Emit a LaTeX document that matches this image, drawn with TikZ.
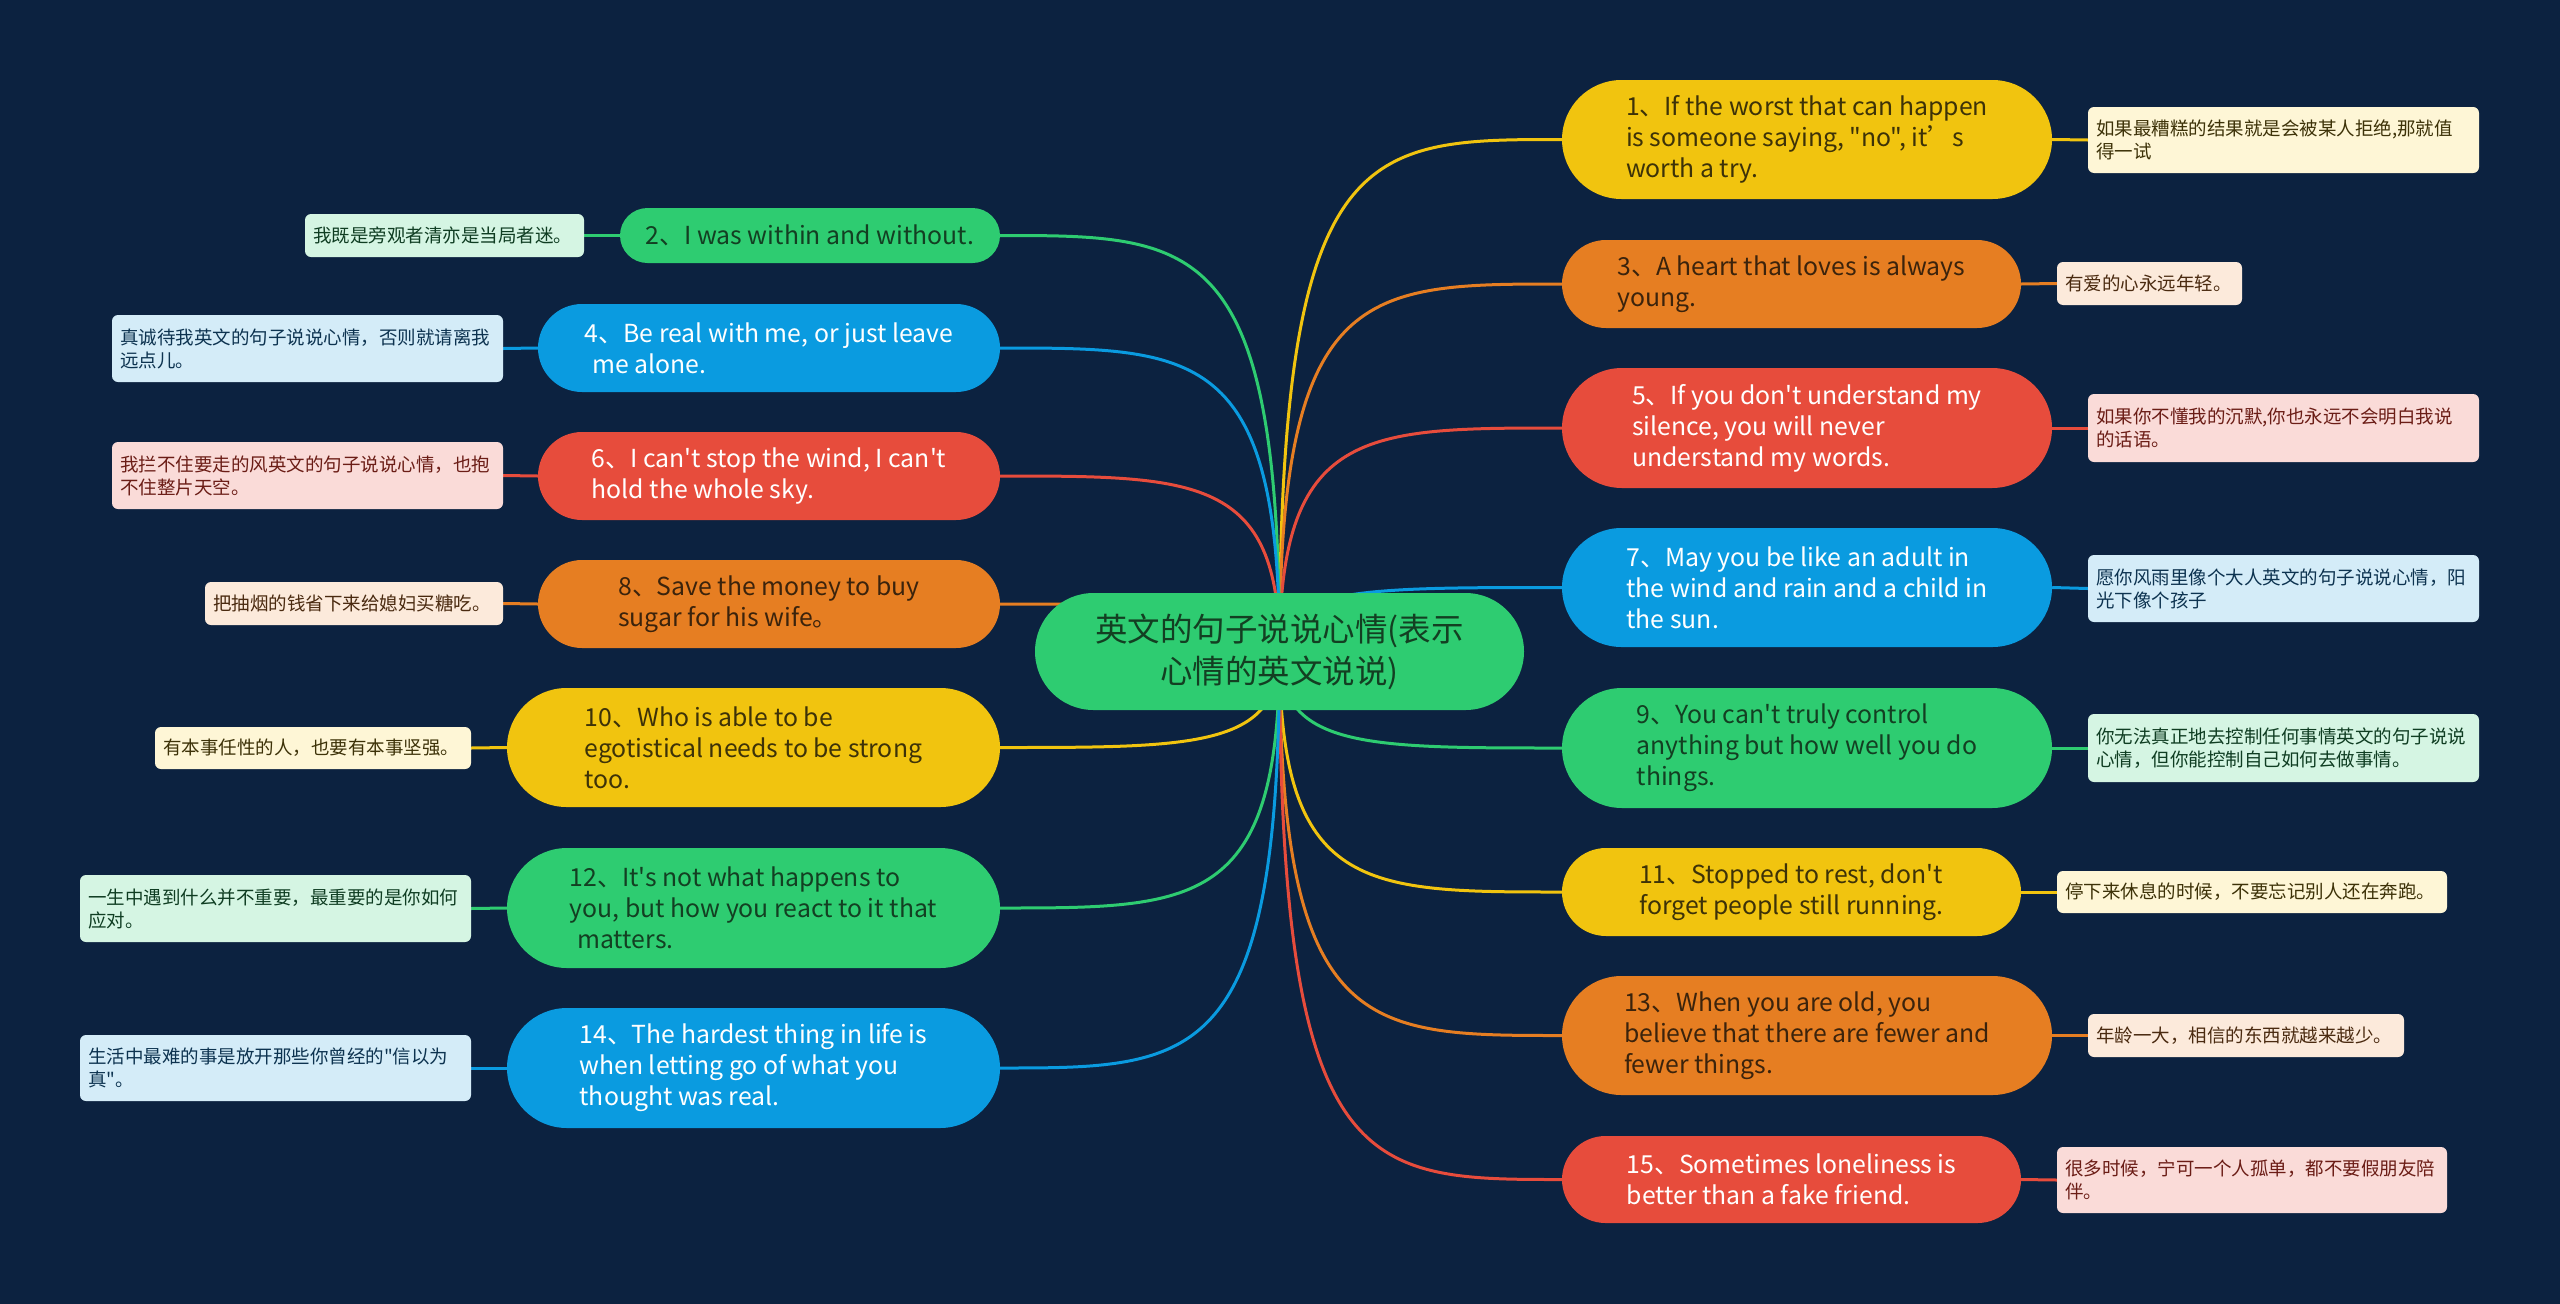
\documentclass[tikz,border=0pt]{standalone}
\usepackage{fontspec}
\defaultfontfeatures[\rmfamily]{}
\setmainfont{Noto Sans CJK SC}
\usetikzlibrary{calc,backgrounds}
\definecolor{bgc}{HTML}{0C2240}
\definecolor{cy}{HTML}{F1C40F}
\definecolor{co}{HTML}{E67E22}
\definecolor{cr}{HTML}{E74C3C}
\definecolor{cb}{HTML}{0A9BE0}
\definecolor{cg}{HTML}{2ECC71}
\definecolor{ly}{HTML}{FEF6D6}
\definecolor{lo}{HTML}{FCEADB}
\definecolor{lr}{HTML}{FADBD8}
\definecolor{lb}{HTML}{D4ECF8}
\definecolor{lg}{HTML}{D5F5E3}
\definecolor{ty}{HTML}{3D3208}
\definecolor{to}{HTML}{3B230C}
\definecolor{tg}{HTML}{133F22}
\definecolor{tly}{HTML}{3D3208}
\definecolor{tlo}{HTML}{4A2A10}
\definecolor{tlr}{HTML}{6B1D16}
\definecolor{tlb}{HTML}{0D3350}
\definecolor{tlg}{HTML}{0F3D22}
\tikzset{
  mn/.style={inner sep=0pt, align=left, font=\fontsize{24.8pt}{31pt}\selectfont},
  leaf/.style={inner sep=0pt, align=left, rounded corners=6pt, font=\fontsize{18.5pt}{23pt}\selectfont},
  conn/.style={line width=3pt},
}
\newcommand\mmR[2]{\draw[conn,#2] (c.center) .. controls (c.center |- #1.west) and ($(c.center |- #1.west)!0.3!(#1.west)$) .. (#1.west);}
\newcommand\mmL[2]{\draw[conn,#2] (c.center) .. controls (c.center |- #1.east) and ($(c.center |- #1.east)!0.3!(#1.east)$) .. (#1.east);}
\begin{document}
\begin{tikzpicture}[x=1pt,y=-1pt]
\useasboundingbox (0,0) rectangle (2560,1304);
% center
\node[fill=cg, text=tg, rounded corners=58.5pt, minimum width=489pt, minimum height=117pt, inner sep=0pt, align=center, font=\fontsize{32.5pt}{42pt}\selectfont] (c) at (1279.5,651.5) {英文的句子说说心情(表示\\心情的英文说说)};
% right main nodes
\node[mn, fill=cy, text=ty, minimum width=490pt, minimum height=119pt, rounded corners=59.5pt] (n1) at (1807,139.5) {1、If the worst that can happen\\is someone saying, "no", it’s\\worth a try.};
\node[mn, fill=co, text=to, minimum width=459pt, minimum height=88pt, rounded corners=44pt] (n3) at (1791.5,284) {3、A heart that loves is always\\young.};
\node[mn, fill=cr, text=white, minimum width=490pt, minimum height=120pt, rounded corners=60pt] (n5) at (1807,428) {5、If you don't understand my\\silence, you will never\\understand my words.};
\node[mn, fill=cb, text=white, minimum width=490pt, minimum height=119pt, rounded corners=59.5pt] (n7) at (1807,587.5) {7、May you be like an adult in\\the wind and rain and a child in\\the sun.};
\node[mn, fill=cg, text=tg, minimum width=490pt, minimum height=120pt, rounded corners=60pt] (n9) at (1807,748) {9、You can't truly control\\anything but how well you do\\things.};
\node[mn, fill=cy, text=ty, minimum width=459pt, minimum height=88pt, rounded corners=44pt] (n11) at (1791.5,892) {11、Stopped to rest, don't\\forget people still running.};
\node[mn, fill=co, text=to, minimum width=490pt, minimum height=119pt, rounded corners=59.5pt] (n13) at (1807,1035.5) {13、When you are old, you\\believe that there are fewer and\\fewer things.};
\node[mn, fill=cr, text=white, minimum width=459pt, minimum height=87pt, rounded corners=43.5pt] (n15) at (1791.5,1179.5) {15、Sometimes loneliness is\\better than a fake friend.};
% left main nodes
\node[mn, fill=cg, text=tg, minimum width=380pt, minimum height=55pt, rounded corners=27.5pt] (n2) at (810,235.5) {2、I was within and without.};
\node[mn, fill=cb, text=white, minimum width=462pt, minimum height=88pt, rounded corners=44pt] (n4) at (769,348) {4、Be real with me, or just leave\\\hspace*{.3em}me alone.};
\node[mn, fill=cr, text=white, minimum width=462pt, minimum height=88pt, rounded corners=44pt] (n6) at (769,476) {6、I can't stop the wind, I can't\\hold the whole sky.};
\node[mn, fill=co, text=to, minimum width=462pt, minimum height=88pt, rounded corners=44pt] (n8) at (769,604) {8、Save the money to buy\\sugar for his wife。};
\node[mn, fill=cy, text=ty, minimum width=493pt, minimum height=119pt, rounded corners=59.5pt] (n10) at (753.5,747.5) {10、Who is able to be\\egotistical needs to be strong\\too.};
\node[mn, fill=cg, text=tg, minimum width=493pt, minimum height=120pt, rounded corners=60pt] (n12) at (753.5,908) {12、It's not what happens to\\you, but how you react to it that\\\hspace*{.3em}matters.};
\node[mn, fill=cb, text=white, minimum width=493pt, minimum height=120pt, rounded corners=60pt] (n14) at (753.5,1068) {14、The hardest thing in life is\\when letting go of what you\\thought was real.};
% right leaves
\node[leaf, fill=ly, text=tly, minimum width=391pt, minimum height=66pt, text width=375pt] (l1) at (2283.5,140) {如果最糟糕的结果就是会被某人拒绝,那就值\\得一试};
\node[leaf, fill=lo, text=tlo, minimum width=185pt, minimum height=43pt, text width=169pt] (l3) at (2149.5,283.5) {有爱的心永远年轻。};
\node[leaf, fill=lr, text=tlr, minimum width=391pt, minimum height=68pt, text width=375pt] (l5) at (2283.5,428) {如果你不懂我的沉默,你也永远不会明白我说\\的话语。};
\node[leaf, fill=lb, text=tlb, minimum width=391pt, minimum height=67pt, text width=375pt] (l7) at (2283.5,588.5) {愿你风雨里像个大人英文的句子说说心情，阳\\光下像个孩子};
\node[leaf, fill=lg, text=tlg, minimum width=391pt, minimum height=68pt, text width=375pt] (l9) at (2283.5,748) {你无法真正地去控制任何事情英文的句子说说\\心情，但你能控制自己如何去做事情。};
\node[leaf, fill=ly, text=tly, minimum width=390pt, minimum height=42pt, text width=374pt] (l11) at (2252,892) {停下来休息的时候，不要忘记别人还在奔跑。};
\node[leaf, fill=lo, text=tlo, minimum width=316pt, minimum height=43pt, text width=300pt] (l13) at (2246,1035.5) {年龄一大，相信的东西就越来越少。};
\node[leaf, fill=lr, text=tlr, minimum width=390pt, minimum height=66pt, text width=374pt] (l15) at (2252,1180) {很多时候，宁可一个人孤单，都不要假朋友陪\\伴。};
% left leaves
\node[leaf, fill=lg, text=tlg, minimum width=279pt, minimum height=43pt, text width=263pt] (l2) at (444.5,235.5) {我既是旁观者清亦是当局者迷。};
\node[leaf, fill=lb, text=tlb, minimum width=391pt, minimum height=67pt, text width=375pt] (l4) at (307.5,348.5) {真诚待我英文的句子说说心情，否则就请离我\\远点儿。};
\node[leaf, fill=lr, text=tlr, minimum width=391pt, minimum height=67pt, text width=375pt] (l6) at (307.5,475.5) {我拦不住要走的风英文的句子说说心情，也抱\\不住整片天空。};
\node[leaf, fill=lo, text=tlo, minimum width=298pt, minimum height=43pt, text width=282pt] (l8) at (354,603.5) {把抽烟的钱省下来给媳妇买糖吃。};
\node[leaf, fill=ly, text=tly, minimum width=316pt, minimum height=42pt, text width=300pt] (l10) at (313,748) {有本事任性的人，也要有本事坚强。};
\node[leaf, fill=lg, text=tlg, minimum width=391pt, minimum height=67pt, text width=375pt] (l12) at (275.5,908.5) {一生中遇到什么并不重要，最重要的是你如何\\应对。};
\node[leaf, fill=lb, text=tlb, minimum width=391pt, minimum height=66pt, text width=375pt] (l14) at (275.5,1068) {生活中最难的事是放开那些你曾经的"信以为\\真"。};
\begin{pgfonlayer}{background}
\fill[bgc] (0,0) rectangle (2560,1304);
\mmR{n1}{cy}
\mmR{n3}{co}
\mmR{n5}{cr}
\mmR{n7}{cb}
\mmR{n9}{cg}
\mmR{n11}{cy}
\mmR{n13}{co}
\mmR{n15}{cr}
\mmL{n2}{cg}
\mmL{n4}{cb}
\mmL{n6}{cr}
\mmL{n8}{co}
\mmL{n10}{cy}
\mmL{n12}{cg}
\mmL{n14}{cb}
\draw[conn,cy] (n1.east) -- (l1.west);
\draw[conn,co] (n3.east) -- (l3.west);
\draw[conn,cr] (n5.east) -- (l5.west);
\draw[conn,cb] (n7.east) -- (l7.west);
\draw[conn,cg] (n9.east) -- (l9.west);
\draw[conn,cy] (n11.east) -- (l11.west);
\draw[conn,co] (n13.east) -- (l13.west);
\draw[conn,cr] (n15.east) -- (l15.west);
\draw[conn,cg] (n2.west) -- (l2.east);
\draw[conn,cb] (n4.west) -- (l4.east);
\draw[conn,cr] (n6.west) -- (l6.east);
\draw[conn,co] (n8.west) -- (l8.east);
\draw[conn,cy] (n10.west) -- (l10.east);
\draw[conn,cg] (n12.west) -- (l12.east);
\draw[conn,cb] (n14.west) -- (l14.east);
\end{pgfonlayer}
\end{tikzpicture}
\end{document}
